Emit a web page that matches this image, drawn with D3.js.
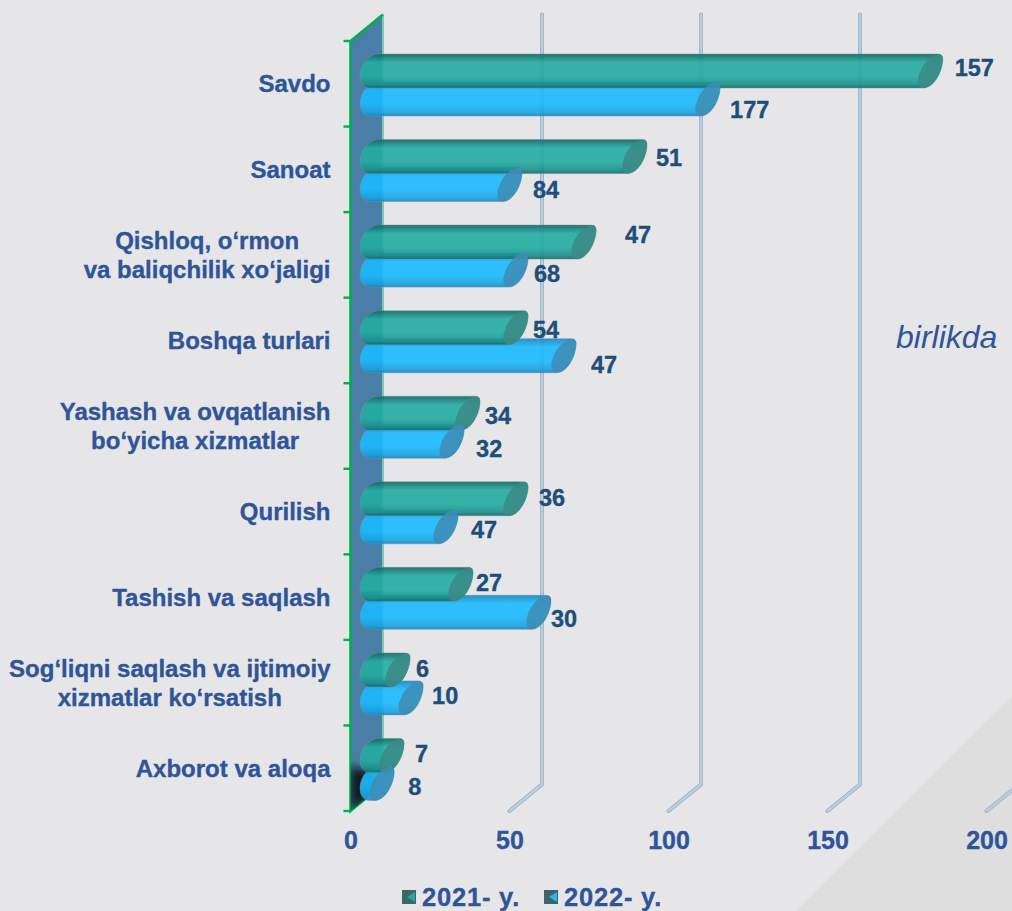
<!DOCTYPE html>
<html>
<head>
<meta charset="utf-8">
<script src="https://cdn.jsdelivr.net/npm/d3@7"></script>
<style>
html, body { margin: 0; padding: 0; background: #e6e6e8; overflow: hidden; }
text { font-family: "Liberation Sans", Arial, sans-serif; font-weight: bold; }
</style>
</head>
<body>
<script>
// categories, first line / second line
var categories = [
	['Savdo'],
	['Sanoat'],
	['Qishloq, o‘rmon', 'va baliqchilik xo‘jaligi'],
	['Boshqa turlari'],
	['Yashash va ovqatlanish', 'bo‘yicha xizmatlar'],
	['Qurilish'],
	['Tashish va saqlash'],
	['Sog‘liqni saqlash va ijtimoiy', 'xizmatlar ko‘rsatish'],
	['Axborot va aloqa']
];
var seriesNames = ['2021- y.', '2022- y.'];

// bar lengths as drawn in the picture
var bars2021 = [176, 83, 67, 45.6, 30.5, 45.6, 28.3, 8.5, 6.6];
var bars2022 = [106, 43.7, 45.6, 60.7, 25.5, 23.6, 52.8, 12.6, 3.5];

// the printed labels do not follow the bar lengths in the source
var labels2021 = [157, 51, 47, 54, 34, 36, 27, 6, 7];
var labels2022 = [177, 84, 68, 47, 32, 47, 30, 10, 8];

var xTicks = [0, 50, 100, 150, 200];

// labels were moved by hand in the source, so each has a nudge from its bar end
var nudge2021 = [[12, -3], [9, 1], [29, -8], [5, 2], [5, 2], [11, -1], [3, -2], [6, -1], [11, -2]];
var nudge2022 = [[10, 11], [11, 5], [6, 3], [15, 9], [12, 7], [13, 3], [0, 6], [9, -2], [14, 3]];

var W = 1012, H = 911;
var depthX = 32.5, depthY = 26.5;
var barH = 34, barSkew = 23;
var textBlue = '#2f5597', labelBlue = '#1f4e79';

var svg = d3.select('body').append('svg')
	.attr('width', W)
	.attr('height', H)
	.style('display', 'block');

var defs = svg.append('defs');

function barGradient(id, edge, mid, low) {
	var g = defs.append('linearGradient').attr('id', id)
		.attr('x1', 0).attr('x2', 0).attr('y1', 0).attr('y2', 1);
	g.append('stop').attr('offset', '0%').attr('stop-color', edge);
	g.append('stop').attr('offset', '25%').attr('stop-color', mid);
	g.append('stop').attr('offset', '65%').attr('stop-color', mid);
	g.append('stop').attr('offset', '90%').attr('stop-color', low);
	g.append('stop').attr('offset', '100%').attr('stop-color', edge);
}
barGradient('grad2021', '#0f6665', '#23aca2', '#1a8e89');
barGradient('grad2022', '#1487c4', '#1bbaff', '#18a2e2');

defs.append('filter').attr('id', 'blur')
	.attr('x', '-50%').attr('y', '-50%').attr('width', '200%').attr('height', '200%')
	.append('feGaussianBlur').attr('stdDeviation', 4);
defs.append('clipPath').attr('id', 'wallClip').append('polygon')
	.attr('points', [[350.5, 41], [383, 14], [383, 785], [350.5, 811]].join(' '));

// background corner
svg.append('rect').attr('width', W).attr('height', H).attr('fill', '#e6e6e8');
svg.append('polygon')
	.attr('points', [[796, H], [W, 696], [W, H]].join(' '))
	.attr('fill', '#dedede');

var x = d3.scaleLinear().domain([0, 200]).range([350.5, 986.5]);
var y = d3.scaleBand().domain(d3.range(categories.length)).range([41, 811]);

var yTop = y.range()[0], yBottom = y.range()[1];

// grid lines, front foot then up the back
xTicks.slice(1).forEach(function(t) {
	var line = [[x(t), yBottom], [x(t) + depthX, yBottom - depthY], [x(t) + depthX, yTop - depthY]];
	svg.append('polyline')
		.attr('points', line.join(' '))
		.attr('fill', 'none')
		.attr('stroke', '#a3a9b1')
		.attr('stroke-width', 4)
		.attr('stroke-linejoin', 'round')
		.attr('stroke-linecap', 'round');
	svg.append('polyline')
		.attr('points', line.join(' '))
		.attr('fill', 'none')
		.attr('stroke', '#b4cfe8')
		.attr('stroke-width', 2.6)
		.attr('stroke-linejoin', 'round')
		.attr('stroke-linecap', 'round');
});

// side wall
svg.append('polygon')
	.attr('points', [[x(0), yTop], [x(0) + depthX, yTop - depthY], [x(0) + depthX, yBottom - depthY], [x(0), yBottom]].join(' '))
	.attr('fill', '#4a7ea6');
svg.append('line')
	.attr('x1', x(0) + depthX).attr('x2', x(0) + depthX)
	.attr('y1', yTop - depthY).attr('y2', yBottom - depthY)
	.attr('stroke', '#7fc7b8').attr('stroke-width', 2);
svg.append('polyline')
	.attr('points', [[x(0) + depthX, yTop - depthY], [x(0), yTop], [x(0), yBottom], [x(0) + depthX, yBottom - depthY]].join(' '))
	.attr('fill', 'none')
	.attr('stroke', '#00b050')
	.attr('stroke-width', 2.6);

// dark patch at the foot of the wall
svg.append('g').attr('clip-path', 'url(#wallClip)')
	.append('polygon')
	.attr('points', [[350, 812], [378, 792], [374, 772], [350, 766]].join(' '))
	.attr('fill', '#0d1a24')
	.attr('filter', 'url(#blur)');

// category ticks on the band edges
d3.range(categories.length + 1).forEach(function(i) {
	var ty = yTop + i * y.step();
	svg.append('line')
		.attr('x1', x(0) - 7).attr('x2', x(0))
		.attr('y1', ty).attr('y2', ty)
		.attr('stroke', '#00b050').attr('stroke-width', 2.4);
});

function barOutline(X, top) {
	var b = top + barH;
	var left = x(0) + depthX;
	return 'M' + (left - 4) + ',' + top +
		'L' + (X - 5) + ',' + top +
		'Q' + (X + 1) + ',' + top + ' ' + X + ',' + (top + 7) +
		'C' + (X - 1) + ',' + (top + 20) + ' ' + (X - 10) + ',' + b + ' ' + (X - 19) + ',' + b +
		'L' + (left - 13) + ',' + b +
		'C' + (left - 20) + ',' + b + ' ' + (left - barSkew) + ',' + (b - 6) + ' ' + (left - barSkew) + ',' + (b - 12) +
		'C' + (left - barSkew) + ',' + (top + 10) + ' ' + (left - 14) + ',' + top + ' ' + (left - 4) + ',' + top + 'Z';
}

function capOutline(X, top) {
	var b = top + barH;
	return 'M' + (X - 4) + ',' + top +
		'Q' + (X + 1) + ',' + top + ' ' + X + ',' + (top + 7) +
		'C' + (X - 1) + ',' + (top + 20) + ' ' + (X - 10) + ',' + b + ' ' + (X - 19) + ',' + b +
		'C' + (X - 25) + ',' + b + ' ' + (X - 26) + ',' + (b - 8) + ' ' + (X - 23) + ',' + (b - 15) +
		'C' + (X - 20) + ',' + (top + 9) + ' ' + (X - 11) + ',' + (top + 1) + ' ' + (X - 4) + ',' + top + 'Z';
}

var barEnd = function(v) { return x(v) + depthX; };
var top2021 = function(i) { return y(i) + 13; };
var top2022 = function(i) { return y(i) + 41; };

function drawBodies(values, topFn, gradId) {
	svg.append('g').selectAll('path').data(values).join('path')
		.attr('d', function(d, i) { return barOutline(barEnd(d), topFn(i)); })
		.attr('fill', 'url(#' + gradId + ')')
		.attr('fill-opacity', 0.9)
		.attr('stroke', '#7d8f92')
		.attr('stroke-opacity', 0.6)
		.attr('stroke-width', 0.8);
}
function drawCaps(values, topFn, color) {
	svg.append('g').selectAll('path').data(values).join('path')
		.attr('d', function(d, i) { return capOutline(barEnd(d), topFn(i)); })
		.attr('fill', color)
		.attr('fill-opacity', 0.88);
}

drawBodies(bars2022, top2022, 'grad2022');
drawBodies(bars2021, top2021, 'grad2021');
drawCaps(bars2021, top2021, '#3b8a85');
drawCaps(bars2022, top2022, '#3f8db5');

// value labels
function drawLabels(texts, values, topFn, nudges) {
	svg.append('g').selectAll('text').data(texts).join('text')
		.attr('x', function(d, i) { return barEnd(values[i]) + nudges[i][0]; })
		.attr('y', function(d, i) { return topFn(i) + barH / 2 + nudges[i][1]; })
		.attr('dy', '0.36em')
		.attr('font-size', 23.5)
		.attr('fill', labelBlue)
		.attr('stroke', labelBlue)
		.attr('stroke-width', 0.35)
		.text(function(d) { return d; });
}
drawLabels(labels2021, bars2021, top2021, nudge2021);
drawLabels(labels2022, bars2022, top2022, nudge2022);

// category labels: lines centred on each other, widest one ends at the axis
var catFont = 24, catLine = 28.5;
categories.forEach(function(lines, i) {
	var t = svg.append('text')
		.attr('font-size', catFont)
		.attr('fill', textBlue)
		.attr('stroke', textBlue)
		.attr('stroke-width', 0.35)
		.attr('text-anchor', 'middle');
	var spans = lines.map(function(s, k) {
		return t.append('tspan')
			.attr('y', y(i) + y.bandwidth() / 2 + (k - (lines.length - 1) / 2) * catLine)
			.attr('dy', '0.36em')
			.text(s);
	});
	var widest = d3.max(spans, function(s) { return s.node().getComputedTextLength(); });
	spans.forEach(function(s) { s.attr('x', 330.5 - widest / 2); });
});

// x axis numbers
var xAxis = d3.axisBottom(x).tickValues(xTicks).tickSize(0).tickPadding(0);
var xg = svg.append('g').attr('transform', 'translate(0,' + 831 + ')').call(xAxis);
xg.select('.domain').remove();
xg.selectAll('text')
	.attr('font-size', 25)
	.attr('fill', textBlue)
	.attr('stroke', textBlue)
	.attr('stroke-width', 0.35)
	.style('font-family', '"Liberation Sans", Arial, sans-serif')
	.style('font-weight', 'bold');

// unit note
svg.append('text')
	.attr('x', 896).attr('y', 348)
	.attr('font-size', 32)
	.attr('fill', textBlue)
	.style('font-weight', 'normal')
	.style('font-style', 'italic')
	.text('birlikda');

// legend
var legendColors = ['#2aa39b', '#2db5f0'];
var legendX = [402, 544];
seriesNames.forEach(function(name, i) {
	var lx = legendX[i];
	svg.append('rect')
		.attr('x', lx).attr('y', 890).attr('width', 14).attr('height', 14)
		.attr('fill', '#3d6468');
	svg.append('polygon')
		.attr('points', [[lx + 13, 892], [lx + 5, 897], [lx + 13, 902]].join(' '))
		.attr('fill', legendColors[i]);
	svg.append('text')
		.attr('x', lx + 20).attr('y', 906)
		.attr('font-size', 25.5)
		.attr('letter-spacing', 0.8)
		.attr('fill', textBlue)
		.attr('stroke', textBlue)
		.attr('stroke-width', 0.35)
		.text(name);
});
</script>
</body>
</html>
